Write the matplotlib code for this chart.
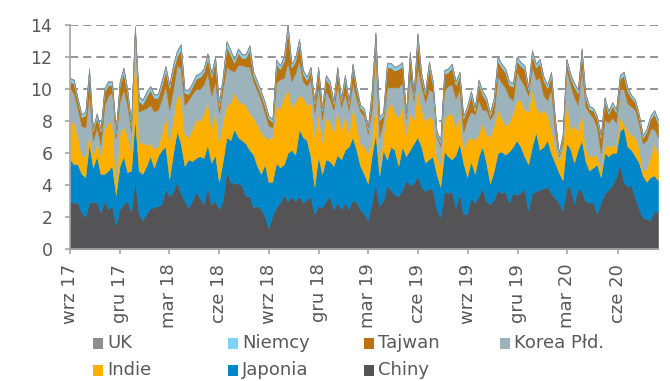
import matplotlib
matplotlib.use("Agg")
import matplotlib.pyplot as plt
import matplotlib.dates as mdates
from matplotlib.patches import Rectangle
import pandas as pd

# weekly values, first week starting 2017-09-01
chiny = [
    2.95, 2.9, 2.9, 2.3, 2.0, 2.9, 2.95, 2.9, 2.3, 3.0,
    2.5, 2.7, 1.5, 2.5, 2.8, 3.0, 2.3, 4.3, 2.2, 1.8,
    2.2, 2.55, 2.6, 2.7, 2.8, 3.8, 3.3, 3.6, 4.2, 3.5,
    3.0, 2.6, 3.0, 3.6, 3.2, 2.8, 3.9, 2.8, 3.0, 2.5,
    3.0, 4.9, 4.2, 4.1, 4.1, 4.0, 3.3, 3.3, 2.6, 2.7,
    2.5, 2.1, 1.3, 2.1, 2.6, 2.9, 3.4, 3.0, 3.3, 3.0,
    3.3, 2.9, 3.1, 3.3, 2.2, 2.7, 2.6, 3.0, 3.3, 2.5,
    2.9, 2.5, 2.9, 2.5, 3.1, 2.9, 2.5, 2.2, 1.8, 2.9,
    4.1, 2.7, 3.0, 4.0, 3.7, 3.4, 3.3, 3.7, 4.3, 4.0,
    4.1, 4.6, 3.9, 3.6, 3.8, 3.7, 2.5, 2.0, 3.6, 3.5,
    3.6, 2.6, 3.5, 2.2, 2.2, 3.2, 2.9, 3.3, 3.8, 3.0,
    2.8, 3.1, 3.7, 3.5, 3.6, 2.9, 3.5, 3.4, 3.5, 3.8,
    2.4, 3.5, 3.6, 3.7, 3.8, 3.9, 3.5, 3.2, 2.9, 2.4,
    3.8, 3.9, 2.8, 3.8, 3.6, 3.0, 2.9, 2.9, 2.2, 2.9,
    3.5, 3.7, 4.0, 4.5, 5.3, 4.2, 3.9, 4.0, 3.2, 2.5,
    1.95, 1.9, 1.8, 2.4, 2.3,
]
japonia = [
    2.65, 2.4, 2.4, 2.4, 2.5, 3.7, 2.15, 2.9, 2.4, 1.7,
    2.4, 2.5, 1.9, 2.7, 3.0, 1.8, 2.6, 3.9, 2.7, 2.9,
    3.0, 3.25, 2.5, 3.1, 3.4, 2.6, 1.1, 2.4, 3.2, 3.1,
    2.2, 3.0, 2.5, 2.1, 2.6, 2.9, 2.6, 2.6, 2.9, 1.7,
    2.5, 2.1, 2.6, 3.4, 2.9, 2.8, 3.3, 2.9, 3.3, 2.5,
    2.2, 3.2, 2.9, 2.1, 2.8, 2.2, 1.9, 3.0, 2.9, 2.9,
    4.2, 4.1, 3.7, 2.5, 1.7, 3.1, 2.1, 2.6, 2.2, 2.7,
    3.0, 3.1, 3.3, 3.9, 3.9, 3.3, 2.7, 2.5, 2.3, 2.9,
    3.1, 1.9, 3.2, 1.6, 2.7, 2.8, 1.9, 2.7, 1.5, 2.2,
    2.5, 2.4, 2.5, 1.8, 1.8, 2.1, 2.2, 1.9, 2.5, 2.3,
    2.0, 3.3, 3.1, 3.2, 2.3, 2.3, 1.8, 2.5, 2.6, 2.4,
    1.3, 1.8, 2.3, 2.6, 2.3, 3.2, 2.9, 3.4, 2.9, 2.0,
    2.9, 2.9, 3.7, 2.5, 2.6, 2.9, 2.5, 2.2, 1.9, 1.9,
    2.8, 2.4, 2.6, 2.4, 3.2, 2.5, 2.0, 2.2, 3.1, 1.6,
    2.5, 2.1, 2.0, 1.5, 2.1, 3.4, 2.5, 2.2, 2.6, 2.9,
    2.65, 2.3, 2.7, 2.2, 2.0,
]
indie = [
    2.4, 2.6, 1.7, 1.15, 1.3, 0.6, 0.8, 0.8, 1.1, 2.8,
    3.0, 2.7, 0.8, 2.0, 1.9, 2.3, 1.1, 5.2, 1.7, 2.0,
    1.3, 0.8, 1.2, 0.6, 1.0, 2.0, 2.3, 2.2, 2.2, 2.9,
    2.0, 1.4, 2.0, 2.4, 2.2, 2.8, 2.7, 2.1, 2.8, 2.4,
    2.5, 2.0, 2.3, 2.3, 2.3, 2.3, 2.4, 2.3, 2.3, 2.6,
    2.6, 1.7, 2.7, 2.8, 3.5, 3.7, 4.2, 4.0, 2.7, 3.3,
    2.1, 2.5, 2.2, 3.3, 3.1, 2.7, 2.0, 2.6, 2.5, 2.1,
    2.8, 1.8, 2.2, 0.8, 1.9, 1.6, 1.4, 1.7, 1.9, 1.0,
    2.3, 0.4, 0.9, 3.1, 2.8, 2.3, 3.0, 2.5, 1.4, 2.3,
    1.5, 3.0, 2.3, 2.6, 2.7, 2.3, 1.1, 1.3, 2.1, 2.6,
    2.9, 1.7, 1.8, 0.9, 2.3, 1.5, 2.1, 1.4, 1.5, 1.8,
    2.9, 2.8, 2.7, 2.1, 1.8, 1.8, 2.1, 2.5, 2.9, 2.9,
    3.3, 3.6, 1.6, 2.3, 2.3, 1.6, 1.5, 1.0, 0.7, 2.0,
    2.7, 1.2, 2.3, 1.2, 1.7, 0.7, 0.9, 0.7, 0.6, 0.4,
    0.5, 0.6, 0.5, 0.4, 0.9, 0.2, 1.0, 0.9, 1.2, 0.9,
    0.3, 0.8, 1.3, 2.0, 1.7,
]
korea = [
    2.1, 1.8, 1.8, 1.85, 1.8, 2.5, 0.9, 1.0, 0.7, 1.5,
    1.7, 1.9, 2.7, 2.0, 2.3, 1.9, 1.3, 0.3, 2.0, 2.0,
    2.3, 2.4, 2.3, 2.3, 2.2, 1.8, 2.0, 1.8, 1.9, 1.8,
    1.8, 2.3, 2.2, 1.9, 2.0, 1.8, 1.8, 2.1, 1.8, 1.9,
    2.0, 2.4, 2.1, 1.3, 2.2, 2.4, 2.4, 2.9, 2.3, 2.1,
    2.0, 1.5, 0.8, 0.6, 1.5, 1.8, 1.2, 1.7, 1.6, 1.8,
    2.2, 1.0, 1.2, 1.5, 1.5, 1.7, 1.4, 1.7, 1.4, 1.4,
    1.6, 1.5, 1.3, 1.5, 1.5, 1.6, 2.0, 1.9, 1.2, 1.9,
    2.8, 2.0, 0.9, 1.4, 0.9, 1.6, 1.9, 1.5, 0.9, 2.3,
    1.2, 1.4, 1.5, 1.2, 1.7, 1.7, 1.2, 1.2, 1.7, 1.8,
    1.8, 1.8, 1.6, 1.0, 1.3, 1.6, 1.6, 2.1, 0.8, 1.5,
    1.1, 0.8, 2.1, 2.2, 2.4, 1.6, 0.8, 1.8, 1.3, 1.5,
    1.0, 1.4, 1.7, 2.2, 0.9, 0.9, 2.5, 0.9, 0.3, 0.3,
    1.9, 2.8, 1.8, 1.6, 2.8, 2.7, 2.7, 2.4, 1.7, 1.1,
    1.6, 1.5, 1.7, 1.5, 1.7, 2.2, 1.7, 1.8, 1.7, 1.5,
    1.7, 1.8, 1.7, 0.9, 1.0,
]
tajwan = [
    0.35, 0.65, 0.45, 0.55, 0.75, 1.25, 0.55, 0.65, 0.85, 0.85,
    0.65, 0.45, 0.35, 1.05, 1.05, 0.75, 0.45, 0.05, 0.65, 0.35,
    0.75, 0.95, 0.85, 0.75, 0.85, 0.95, 1.35, 1.25, 0.55, 1.15,
    0.75, 0.4, 0.45, 0.65, 0.75, 0.75, 0.95, 1.15, 1.25, 0.45,
    0.55, 1.25, 0.95, 0.55, 0.75, 0.45, 0.55, 1.05, 0.35, 0.35,
    0.35, 0.45, 0.45, 0.35, 1.15, 0.65, 1.05, 2.0, 0.85, 0.75,
    1.05, 0.45, 0.35, 0.55, 0.55, 0.95, 0.55, 0.75, 0.85, 0.35,
    0.85, 0.35, 0.95, 0.35, 0.95, 0.55, 0.25, 0.3, 0.25, 0.95,
    0.9, 1.05, 0.35, 1.25, 1.25, 1.05, 1.15, 1.05, 0.25, 1.25,
    0.25, 1.75, 0.55, 0.45, 1.45, 0.45, 0.2, 0.25, 1.05, 0.85,
    1.05, 0.85, 0.85, 0.85, 0.65, 1.05, 0.25, 1.05, 0.95, 0.55,
    0.25, 0.75, 0.95, 0.95, 0.95, 0.75, 0.85, 0.65, 0.85, 1.05,
    0.35, 0.75, 0.75, 0.95, 0.95, 0.75, 0.85, 0.75, 0.1, 0.35,
    0.45, 0.45, 0.65, 0.75, 0.95, 0.55, 0.25, 0.45, 0.55, 0.95,
    1.15, 0.55, 0.75, 0.65, 0.65, 0.85, 0.75, 0.55, 0.45, 0.45,
    0.35, 0.55, 0.65, 0.95, 0.85,
]
niemcy = [
    0.2, 0.2, 0.15, 0.15, 0.2, 0.3, 0.15, 0.2, 0.15, 0.2,
    0.2, 0.2, 0.15, 0.2, 0.25, 0.2, 0.15, 0.1, 0.25, 0.25,
    0.25, 0.2, 0.2, 0.2, 0.25, 0.25, 0.2, 0.25, 0.3, 0.3,
    0.2, 0.2, 0.2, 0.2, 0.2, 0.2, 0.25, 0.2, 0.25, 0.2,
    0.2, 0.3, 0.25, 0.2, 0.25, 0.2, 0.2, 0.25, 0.2, 0.2,
    0.2, 0.2, 0.15, 0.15, 0.25, 0.2, 0.25, 0.3, 0.2, 0.2,
    0.25, 0.2, 0.2, 0.2, 0.15, 0.2, 0.15, 0.2, 0.2, 0.15,
    0.2, 0.15, 0.2, 0.15, 0.2, 0.15, 0.15, 0.15, 0.15, 0.2,
    0.3, 0.2, 0.15, 0.25, 0.25, 0.2, 0.2, 0.2, 0.15, 0.25,
    0.15, 0.3, 0.2, 0.15, 0.25, 0.2, 0.15, 0.15, 0.2, 0.2,
    0.2, 0.2, 0.2, 0.15, 0.15, 0.2, 0.15, 0.2, 0.2, 0.2,
    0.15, 0.2, 0.25, 0.2, 0.2, 0.2, 0.2, 0.25, 0.2, 0.2,
    0.15, 0.25, 0.2, 0.2, 0.2, 0.2, 0.2, 0.15, 0.1, 0.15,
    0.2, 0.2, 0.2, 0.2, 0.25, 0.2, 0.15, 0.15, 0.15, 0.15,
    0.2, 0.15, 0.2, 0.15, 0.2, 0.2, 0.2, 0.15, 0.15, 0.15,
    0.15, 0.15, 0.15, 0.2, 0.2,
]
uk = [
    0.05, 0.05, 0.05, 0.04, 0.05, 0.06, 0.04, 0.05, 0.05, 0.05,
    0.05, 0.05, 0.04, 0.05, 0.06, 0.05, 0.05, 0.1, 0.05, 0.05,
    0.05, 0.05, 0.05, 0.05, 0.05, 0.06, 0.05, 0.05, 0.06, 0.06,
    0.05, 0.05, 0.05, 0.05, 0.05, 0.05, 0.05, 0.05, 0.05, 0.05,
    0.05, 0.06, 0.05, 0.05, 0.05, 0.05, 0.05, 0.05, 0.05, 0.05,
    0.05, 0.05, 0.04, 0.04, 0.05, 0.05, 0.05, 0.06, 0.05, 0.05,
    0.05, 0.05, 0.05, 0.05, 0.04, 0.05, 0.04, 0.05, 0.05, 0.04,
    0.05, 0.04, 0.05, 0.04, 0.05, 0.04, 0.04, 0.04, 0.04, 0.05,
    0.06, 0.05, 0.04, 0.05, 0.05, 0.05, 0.05, 0.05, 0.04, 0.05,
    0.04, 0.06, 0.05, 0.04, 0.05, 0.05, 0.04, 0.04, 0.05, 0.05,
    0.05, 0.05, 0.05, 0.04, 0.04, 0.05, 0.04, 0.05, 0.05, 0.05,
    0.04, 0.05, 0.05, 0.05, 0.05, 0.05, 0.05, 0.05, 0.05, 0.05,
    0.04, 0.05, 0.05, 0.05, 0.05, 0.05, 0.05, 0.04, 0.04, 0.04,
    0.05, 0.05, 0.05, 0.05, 0.06, 0.05, 0.04, 0.04, 0.04, 0.04,
    0.05, 0.04, 0.05, 0.04, 0.05, 0.05, 0.05, 0.04, 0.04, 0.04,
    0.04, 0.04, 0.04, 0.05, 0.05,
]

series_names = ["Chiny", "Japonia", "Indie", "Korea Płd.", "Tajwan", "Niemcy", "UK"]
series_colors = ["#545457", "#0087c9", "#fdb000", "#9db3bc", "#b9740f", "#7fd1f6", "#8e8e8e"]

tick_dates = ["2017-09-01", "2017-12-01", "2018-03-01", "2018-06-01",
              "2018-09-01", "2018-12-01", "2019-03-01", "2019-06-01",
              "2019-09-01", "2019-12-01", "2020-03-01", "2020-06-01"]
tick_labels = ["wrz 17", "gru 17", "mar 18", "cze 18", "wrz 18", "gru 18",
               "mar 19", "cze 19", "wrz 19", "gru 19", "mar 20", "cze 20"]

weeks = pd.date_range("2017-09-01", periods=len(chiny), freq="7D")

text_color = "#595959"
axis_color = "#a6a6a6"

W, H = 670, 381
fig = plt.figure(figsize=(W / 100, H / 100), dpi=100)
ax = fig.add_axes([70 / W, 1 - 249 / H, 588 / W, 224 / H])

polys = ax.stackplot(weeks, [chiny, japonia, indie, korea, tajwan, niemcy, uk],
                     colors=series_colors, linewidth=0)
for poly, color in zip(polys, series_colors):
    poly.set_edgecolor(color)
    poly.set_linewidth(0.4)

ax.set_xlim(weeks[0], weeks[-1])
ax.set_ylim(0, 14)
ax.set_yticks(range(0, 15, 2))
ax.set_xticks(pd.to_datetime(tick_dates), labels=tick_labels, rotation=90)

ax.set_axisbelow(True)
ax.yaxis.grid(True, linestyle=(0, (4.5, 2.8)), color="#8c8c8c", linewidth=1.3)
ax.xaxis.grid(False)

for side in ("top", "right"):
    ax.spines[side].set_visible(False)
for side in ("left", "bottom"):
    ax.spines[side].set_color(axis_color)
    ax.spines[side].set_linewidth(1.2)

ax.tick_params(axis="y", length=3.6, width=1.2, color=axis_color, pad=9,
               labelsize=12.5, labelcolor=text_color)
ax.tick_params(axis="x", length=3.6, width=1.2, color=axis_color, pad=7,
               labelsize=13, labelcolor=text_color)

# legend laid out on a fixed grid: four columns, two rows
legend_order = ["UK", "Niemcy", "Tajwan", "Korea Płd.", "Indie", "Japonia", "Chiny"]
col_left = [93, 228, 364, 500]
row_mid = [343, 370]
for k, name in enumerate(legend_order):
    col, row = k % 4, k // 4
    color = series_colors[series_names.index(name)]
    x0, yc = col_left[col], row_mid[row]
    fig.add_artist(Rectangle((x0 / W, 1 - (yc + 5.5) / H), 10 / W, 11 / H,
                             transform=fig.transFigure, facecolor=color,
                             edgecolor="none"))
    fig.text((x0 + 14) / W, 1 - yc / H, name, fontsize=13, color=text_color,
             ha="left", va="center")

fig.savefig("out.png", dpi=100)
